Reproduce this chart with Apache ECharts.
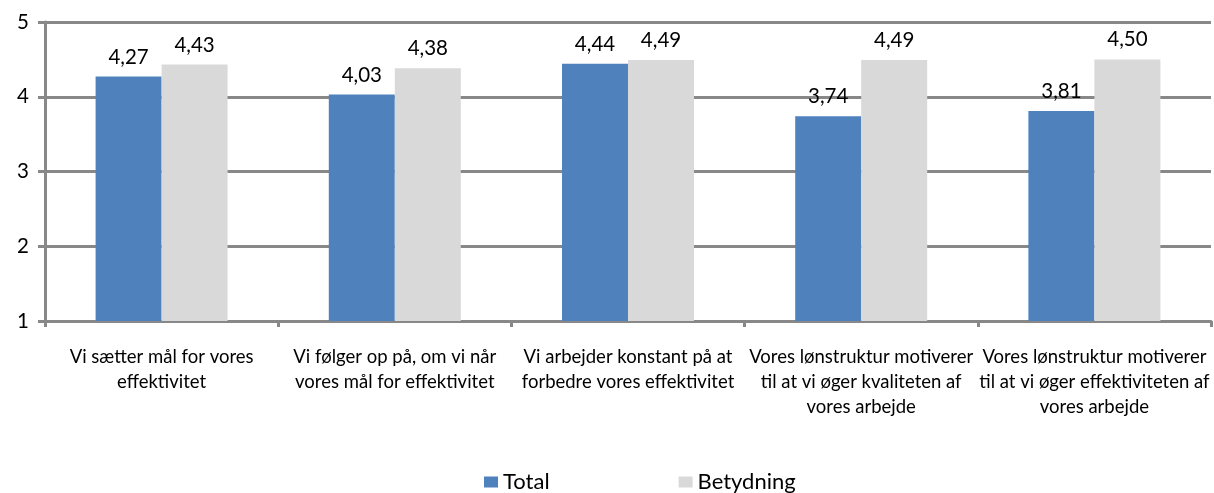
<!DOCTYPE html>
<html>
<head>
<meta charset="utf-8">
<script src="https://cdn.jsdelivr.net/npm/echarts@6/dist/echarts.min.js"></script>
<style>
  html, body { margin: 0; padding: 0; background: #ffffff; }
  #chart { width: 1214px; height: 493px; }
</style>
</head>
<body>
<div id="chart"></div>
<script>
// Statements about efficiency and pay structure (wrapped for the axis)
const categories = [
  'Vi sætter mål for vores\neffektivitet',
  'Vi følger op på, om vi når\nvores mål for effektivitet',
  'Vi arbejder konstant på at\nforbedre vores effektivitet',
  'Vores lønstruktur motiverer\ntil at vi øger kvaliteten af\nvores arbejde',
  'Vores lønstruktur motiverer\ntil at vi øger effektiviteten af\nvores arbejde'
];
const totalValues = [4.27, 4.03, 4.44, 3.74, 3.81];
const betydningValues = [4.43, 4.38, 4.49, 4.49, 4.50];
const yTicks = [1, 2, 3, 4, 5];

const FONT = 'Lato';
const GRID_GRAY = '#888888';

const fmt = v => v.toFixed(2).replace('.', ',');

const chart = echarts.init(document.getElementById('chart'), null, { renderer: 'canvas' });

const valueLabel = {
  show: true,
  position: 'top',
  distance: 9,
  fontFamily: FONT,
  fontSize: 20.5,
  color: '#000000',
  formatter: p => fmt(p.value)
};

chart.setOption({
  backgroundColor: '#ffffff',
  animation: false,
  textStyle: { fontFamily: FONT, color: '#000000' },
  grid: { left: 45, right: 3, top: 22, bottom: 172, containLabel: false },
  legend: {
    top: 471,
    left: 484,
    padding: 0,
    itemWidth: 14,
    itemHeight: 11,
    itemGap: 129,
    icon: 'rect',
    textStyle: { fontFamily: FONT, fontSize: 22, color: '#000000', lineHeight: 22 },
    data: ['Total', 'Betydning']
  },
  xAxis: {
    type: 'category',
    data: categories,
    axisLine: { lineStyle: { color: GRID_GRAY, width: 3 } },
    axisTick: { show: true, inside: false, length: 6, lineStyle: { color: GRID_GRAY, width: 3 } },
    axisLabel: {
      interval: 0,
      margin: 24,
      fontFamily: FONT,
      fontSize: 18.5,
      lineHeight: 25,
      color: '#000000',
      align: 'center'
    }
  },
  yAxis: {
    type: 'value',
    min: yTicks[0],
    max: yTicks[yTicks.length - 1],
    interval: 1,
    axisLine: { show: true, lineStyle: { color: GRID_GRAY, width: 3 } },
    axisTick: { show: true, length: 7, lineStyle: { color: GRID_GRAY, width: 3 } },
    splitLine: { show: true, lineStyle: { color: GRID_GRAY, width: 3 } },
    axisLabel: { fontFamily: FONT, fontSize: 20.5, color: '#000000', margin: 16 }
  },
  series: [
    {
      name: 'Total',
      type: 'bar',
      data: totalValues,
      barWidth: 66,
      barGap: '0%',
      itemStyle: { color: '#4F81BD' },
      label: valueLabel
    },
    {
      name: 'Betydning',
      type: 'bar',
      data: betydningValues,
      barWidth: 66,
      barGap: '0%',
      itemStyle: { color: '#D9D9D9' },
      label: valueLabel
    }
  ]
});
</script>
</body>
</html>
